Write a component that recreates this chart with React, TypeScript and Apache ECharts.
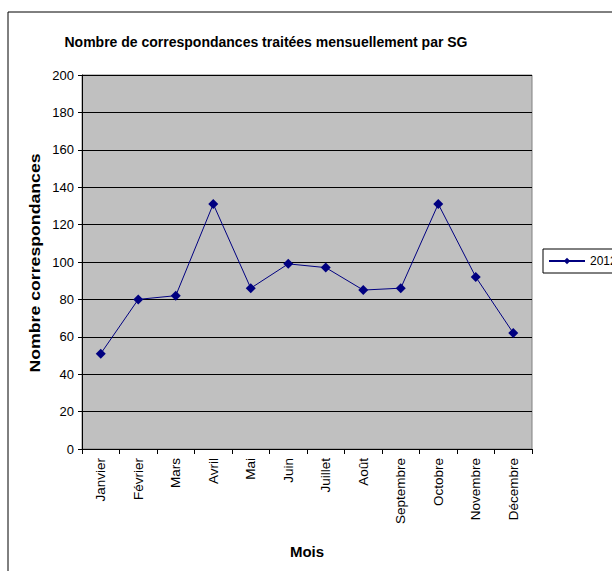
import React, { useEffect, useRef } from "react";
import * as echarts from "echarts";

const months = ["Janvier", "Février", "Mars", "Avril", "Mai", "Juin", "Juillet", "Août", "Septembre", "Octobre", "Novembre", "Décembre"];
const values2012 = [51, 80, 82, 131, 86, 99, 97, 85, 86, 131, 92, 62];
const seriesName = "2012";
const titleText = "Nombre de correspondances traitées mensuellement par SG";
const yTitle = "Nombre correspondances";
const xTitle = "Mois";

export default function App() {
  const ref = useRef<HTMLDivElement>(null);
  useEffect(() => {
    const chart = echarts.init(ref.current!, null, { renderer: "svg" });
    const font = "Liberation Sans, Arial, sans-serif";
    chart.setOption({
      animation: false,
      backgroundColor: "#ffffff",
      textStyle: { fontFamily: font },
      title: {
        text: titleText,
        left: 261,
        top: 30,
        textAlign: "center",
        textStyle: { fontSize: 14, fontWeight: "bold", color: "#000", fontFamily: font },
      },
      graphic: [
        {
          type: "rect",
          shape: { x: 8, y: 12, width: 620, height: 580 },
          style: { fill: "none", stroke: "#000", lineWidth: 1 },
          z: -1,
          silent: true,
        },
        {
          type: "text",
          x: 35,
          y: 263,
          rotation: Math.PI / 2,
          scaleX: 1.18,
          style: {
            text: yTitle,
            fontSize: 15,
            fontWeight: "bold",
            fontFamily: font,
            fill: "#000",
            align: "center",
            verticalAlign: "middle",
          },
        },
        {
          type: "text",
          x: 307,
          y: 551,
          style: {
            text: xTitle,
            fontSize: 15,
            fontWeight: "bold",
            fontFamily: font,
            fill: "#000",
            align: "center",
            verticalAlign: "middle",
          },
        },
      ],
      legend: {
        left: 543,
        top: 249,
        orient: "vertical",
        borderColor: "#000",
        borderWidth: 1,
        borderRadius: 0,
        padding: [6, 10, 6, 5],
        itemWidth: 36,
        itemHeight: 8,
        itemGap: 4,
        textStyle: { fontSize: 12, color: "#000", fontFamily: font },
        data: [seriesName],
      },
      grid: {
        left: 82,
        top: 75,
        width: 450,
        height: 374,
        show: true,
        backgroundColor: "#c0c0c0",
        borderColor: "#808080",
        borderWidth: 1,
      },
      xAxis: {
        type: "category",
        data: months,
        boundaryGap: true,
        axisLine: { lineStyle: { color: "#000", width: 1 } },
        axisTick: { show: true, interval: 0, length: 5, lineStyle: { color: "#000" } },
        axisLabel: { rotate: 90, interval: 0, fontSize: 13.5, color: "#000", margin: 9, fontFamily: font },
        splitLine: { show: false },
      },
      yAxis: {
        type: "value",
        min: 0,
        max: 200,
        interval: 20,
        axisLine: { show: true, lineStyle: { color: "#000", width: 1 } },
        axisTick: { show: true, length: 4, lineStyle: { color: "#000" } },
        axisLabel: { fontSize: 13, color: "#000", margin: 8, fontFamily: font },
        splitLine: { show: true, lineStyle: { color: "#000", width: 1 } },
      },
      series: [
        {
          name: seriesName,
          type: "line",
          data: values2012,
          symbol: "diamond",
          symbolSize: 10,
          showAllSymbol: true,
          lineStyle: { color: "#000080", width: 1 },
          itemStyle: { color: "#000080" },
          color: "#000080",
        },
      ],
    });
    return () => chart.dispose();
  }, []);
  return (
    <div
      ref={ref}
      style={{ position: "fixed", left: 0, top: 0, width: 612, height: 571 }}
    />
  );
}
